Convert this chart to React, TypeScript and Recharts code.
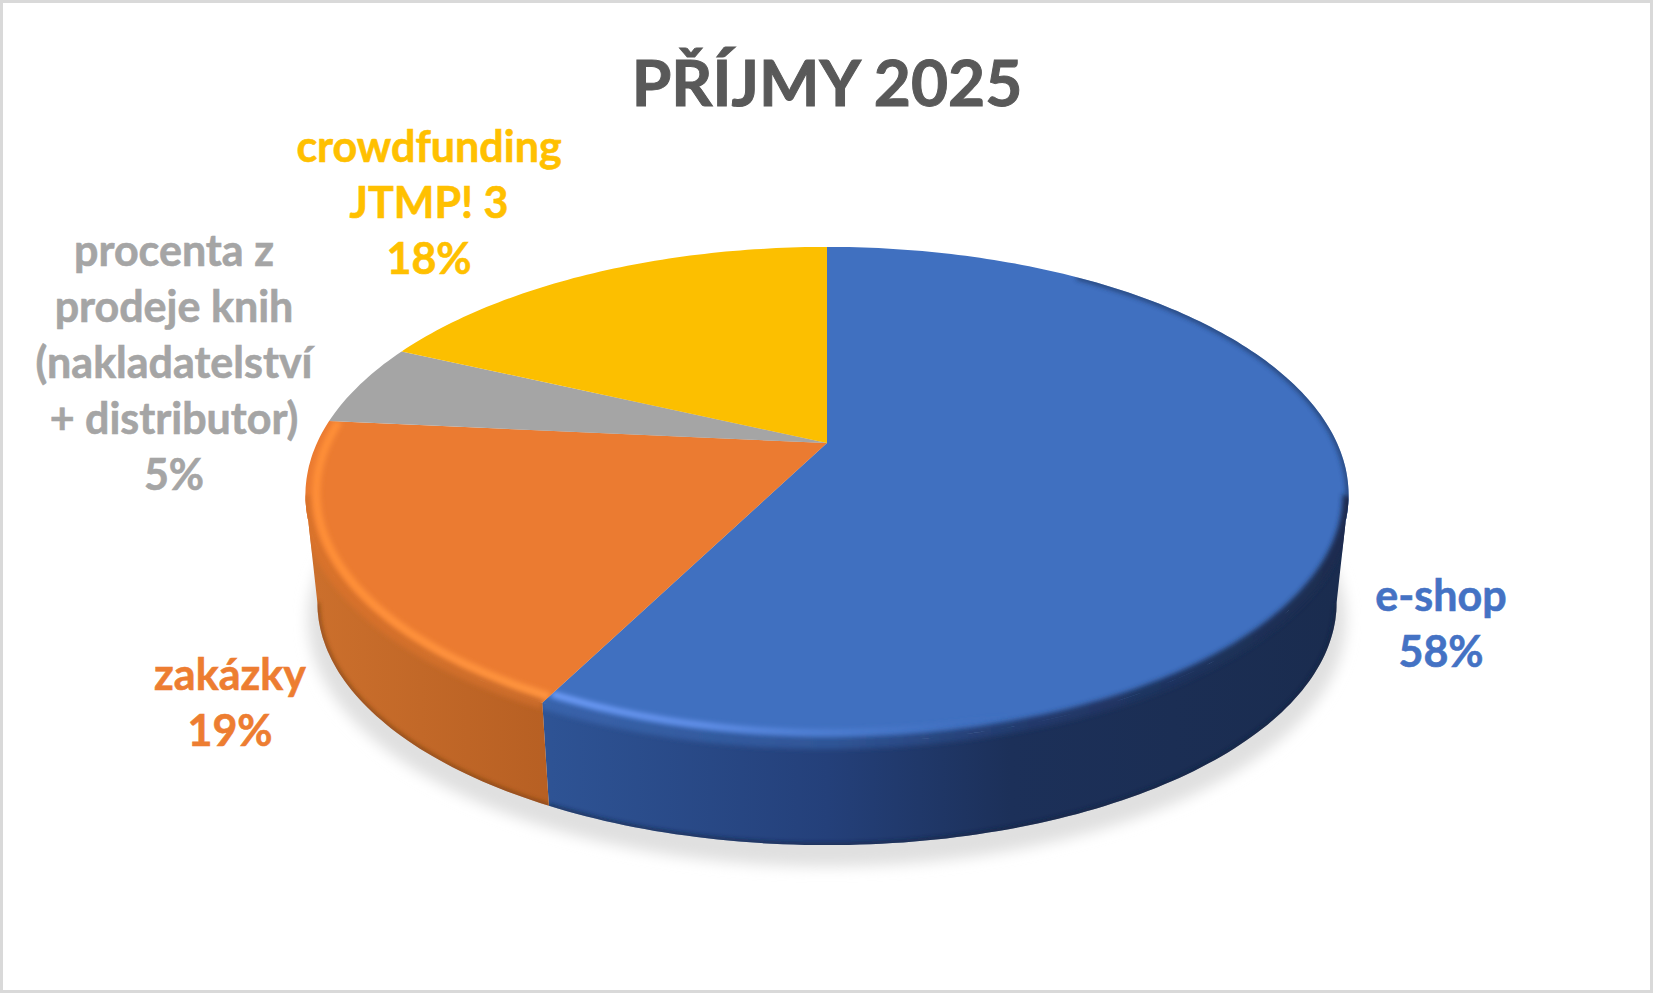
import React from 'react';
import { PieChart, Pie } from 'recharts';

// Chart data
const title = 'PŘÍJMY 2025';
const categoryLines = [
  ['e-shop'],
  ['zakázky'],
  ['procenta z', 'prodeje knih', '(nakladatelství', '+ distributor)'],
  ['crowdfunding', 'JTMP! 3'],
];
const shares = [57.5, 19.0, 5.4, 18.1];
const sliceColors = ['#4070c0', '#eb7b31', '#a5a5a5', '#fcbf00'];
const labelColors = ['#4472c4', '#ed7d31', '#a5a5a5', '#ffc000'];

// Label anchors relative to the pie centre (first baseline)
const labelOffsets = [
  { dx: 614, dy: 168 },
  { dx: -597, dy: 247 },
  { dx: -653, dy: -177 },
  { dx: -398, dy: -281 },
];

const WIDTH = 1653;
const HEIGHT = 993;
const CX = 827;
const CY = 443;
const RADIUS = 510;
const SQUASH = 0.465; // vertical foreshortening of the disc
const PERSPECTIVE = 0.2095; // far side looks smaller than the near side
const BOTTOM_SCALE = 0.977;
const BOTTOM_DROP = 109;
const LINE_HEIGHT = 56;
// where the disc outline turns from the far side to the near side
const TANGENT = (Math.asin(PERSPECTIVE) * 180) / Math.PI;

const rows = categoryLines.map((lines, i) => ({
  name: lines.join(' '),
  value: shares[i],
  fill: sliceColors[i],
}));

const rad = (a: number) => (a * Math.PI) / 180;

// Project a point of the flat disc (angle in degrees, r = 0..1) on the screen
function project(cx: number, cy: number, R: number, a: number, r = 1, scale = 1, drop = 0) {
  const w = 1 + PERSPECTIVE * r * Math.sin(rad(a));
  return [
    cx + (scale * R * r * Math.cos(rad(a))) / w,
    cy + drop - (scale * R * SQUASH * r * Math.sin(rad(a))) / w,
  ];
}

function arcPoints(cx: number, cy: number, R: number, from: number, to: number, r = 1, scale = 1, drop = 0) {
  const n = Math.max(2, Math.ceil(Math.abs(to - from)));
  const pts: number[][] = [];
  for (let i = 0; i <= n; i++) {
    pts.push(project(cx, cy, R, from + ((to - from) * i) / n, r, scale, drop));
  }
  return pts;
}

const toPath = (pts: number[][]) =>
  pts.map((p, i) => `${i ? 'L' : 'M'}${p[0].toFixed(1)} ${p[1].toFixed(1)}`).join(' ');

// Colours of the wall and the bevel, as [offset, colour] from left to right of the disc
const wallStops: Record<number, [number, string][]> = {
  0: [[0.2, '#2f5597'], [0.5, '#24407a'], [0.68, '#1c3059'], [1, '#1a2c4f']],
  1: [[0, '#cb6f2c'], [0.25, '#b55e22']],
};
const highlightStops: Record<number, [number, string, number][]> = {
  0: [[0.2, '#74a2ff', 1], [0.38, '#6795f0', 0.9], [0.52, '#5585dc', 0.6], [0.68, '#4472c4', 0]],
  1: [[0, '#ff8f38', 1], [0.25, '#ff9540', 1]],
};
const edgeStops: Record<number, [number, string][]> = {
  0: [[0.2, '#3a64ac'], [0.5, '#2f5597'], [0.7, '#22396b'], [1, '#1a2c4f']],
  1: [[0, '#d9722c'], [0.25, '#c96b2a']],
};

function Slice3D(props: any) {
  const { cx, cy, outerRadius: R, startAngle, endAngle, fill } = props;
  const index: number = props.index ?? rows.findIndex((r) => r.fill === fill);
  const lo = Math.min(startAngle, endAngle);
  const hi = Math.max(startAngle, endAngle);
  const top = `M${cx} ${cy} ${toPath(arcPoints(cx, cy, R, startAngle, endAngle)).replace('M', 'L')} Z`;

  // The wall only shows on the near part of the disc, between the two tangents
  const frontFrom = Math.max(lo, -180 + TANGENT);
  const frontTo = Math.min(hi, -TANGENT);
  const stops = wallStops[index];
  let wall = '';
  if (stops && frontTo > frontFrom) {
    const upper = arcPoints(cx, cy, R, frontFrom, frontTo);
    const lower = arcPoints(cx, cy, R, frontTo, frontFrom, 1, BOTTOM_SCALE, BOTTOM_DROP);
    wall = `${toPath(upper)} ${toPath(lower).replace('M', 'L')} Z`;
  }
  const gradientBox = { x1: cx - R, x2: cx + R, y1: 0, y2: 0, gradientUnits: 'userSpaceOnUse' as const };

  return (
    <g>
      <defs>
        <filter id={`soft-${index}`} x="-10%" y="-10%" width="120%" height="120%">
          <feGaussianBlur stdDeviation="2.5" />
        </filter>
        <filter id={`shadow-${index}`} x="-10%" y="-20%" width="120%" height="140%">
          <feGaussianBlur stdDeviation="7" />
        </filter>
        <clipPath id={`clip-${index}`}>
          <path d={top} />
          {wall && <path d={wall} />}
        </clipPath>
        {stops && (
          <>
            <linearGradient id={`wall-${index}`} {...gradientBox}>
              {stops.map(([o, c]) => <stop key={o} offset={o} stopColor={c} />)}
            </linearGradient>
            <linearGradient id={`edge-${index}`} {...gradientBox}>
              {edgeStops[index].map(([o, c]) => <stop key={o} offset={o} stopColor={c} />)}
            </linearGradient>
            <linearGradient id={`light-${index}`} {...gradientBox}>
              {highlightStops[index].map(([o, c, k]) => (
                <stop key={o} offset={o} stopColor={c} stopOpacity={k} />
              ))}
            </linearGradient>
          </>
        )}
      </defs>

      {index === 0 && (
        <path
          d={`${toPath(arcPoints(cx, cy, R, 0, 360, 1, 0.995, BOTTOM_DROP + 16))} Z`}
          fill="#e0e0e0"
          filter={`url(#shadow-${index})`}
        />
      )}
      {wall && <path d={wall} fill={`url(#wall-${index})`} />}
      <path d={top} fill={fill} />

      {wall && (
        <g clipPath={`url(#clip-${index})`}>
          <path
            d={toPath(arcPoints(cx, cy, R, frontFrom, frontTo))}
            fill="none"
            stroke={`url(#edge-${index})`}
            strokeWidth={12}
            filter={`url(#soft-${index})`}
          />
          <path
            d={toPath(arcPoints(cx, cy, R, index === 1 ? lo : frontFrom, frontTo, index === 1 ? 0.98 : 0.972))}
            fill="none"
            stroke={`url(#light-${index})`}
            strokeWidth={index === 1 ? 8 : 6}
            filter={`url(#soft-${index})`}
          />
          <path
            d={toPath(arcPoints(cx, cy, R, frontFrom, frontTo, 1, BOTTOM_SCALE, BOTTOM_DROP))}
            fill="none"
            stroke={index === 0 ? '#12233f' : '#6f3a12'}
            strokeWidth={3}
            filter={`url(#soft-${index})`}
          />
          {index === 0 && (
            <path
              d={toPath(arcPoints(cx, cy, R, -TANGENT, 55))}
              fill="none"
              stroke="#1f3864"
              strokeWidth={5}
              opacity={0.8}
              filter={`url(#soft-${index})`}
            />
          )}
        </g>
      )}
    </g>
  );
}

function renderLabel(props: any) {
  const { cx, cy, index, percent } = props;
  const off = labelOffsets[index];
  const lines = [...categoryLines[index], `${Math.round(Math.round(percent * 1000) / 10)}%`];
  return (
    <text
      key={index}
      x={cx + off.dx}
      y={cy + off.dy}
      textAnchor="middle"
      fill={labelColors[index]}
      stroke={labelColors[index]}
      strokeWidth={0.6}
      fontFamily="Lato, sans-serif"
      fontWeight={700}
      fontSize={43}
    >
      {lines.map((line, i) => (
        <tspan key={i} x={cx + off.dx} dy={i ? LINE_HEIGHT : 0}>
          {line}
        </tspan>
      ))}
    </text>
  );
}

export default function App() {
  return (
    <div
      style={{
        position: 'absolute',
        left: 0,
        top: 0,
        width: WIDTH,
        height: HEIGHT,
        background: '#ffffff',
        outline: '3px solid #d9d9d9',
        outlineOffset: -3,
      }}
    >
      <PieChart width={WIDTH} height={HEIGHT} margin={{ top: 0, right: 0, bottom: 0, left: 0 }}>
        <text
          x={CX}
          y={106}
          textAnchor="middle"
          fill="#595959"
          stroke="#595959"
          strokeWidth={1}
          fontFamily="Lato, sans-serif"
          fontWeight={700}
          fontSize={64}
        >
          {title}
        </text>
        <Pie
          data={rows}
          dataKey="value"
          nameKey="name"
          cx={CX}
          cy={CY}
          innerRadius={0}
          outerRadius={RADIUS}
          startAngle={90}
          endAngle={-270}
          stroke="none"
          shape={Slice3D}
          label={renderLabel}
          labelLine={false}
          isAnimationActive={false}
        />
      </PieChart>
    </div>
  );
}
